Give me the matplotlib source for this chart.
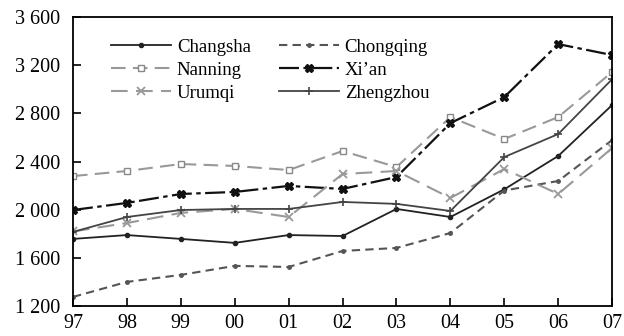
import matplotlib
matplotlib.use("Agg")
import matplotlib.pyplot as plt

years = ["97", "98", "99", "00", "01", "02", "03", "04", "05", "06", "07"]
changsha = [1758, 1790, 1758, 1725, 1790, 1782, 2007, 1940, 2170, 2447, 2870]
chongqing = [1276, 1401, 1459, 1534, 1525, 1658, 1683, 1807, 2160, 2239, 2579]
nanning = [2280, 2322, 2380, 2364, 2330, 2488, 2355, 2770, 2588, 2770, 3144]
xian = [1998, 2057, 2131, 2148, 2198, 2173, 2272, 2720, 2936, 3376, 3285]
urumqi = [1820, 1890, 1974, 2007, 1940, 2297, 2322, 2098, 2339, 2131, 2513]
zhengzhou = [1816, 1940, 1998, 2007, 2007, 2065, 2049, 1990, 2438, 2629, 3085]
yticks = [1200, 1600, 2000, 2400, 2800, 3200, 3600]

plt.rcParams['font.family'] = ['Liberation Serif', 'DejaVu Serif']

fig = plt.figure(figsize=(6.24, 3.36), dpi=100)
ax = fig.add_axes([0.117, 0.089, 0.864, 0.860])
x = list(range(len(years)))

l1, = ax.plot(x, changsha, color='#222222', lw=1.3, marker='o', ms=3, label='Changsha')
l2, = ax.plot(x, chongqing, color='#555555', lw=1.5, ls=(0, (4, 2.5)), marker='o', ms=2.5, label='Chongqing')
l3, = ax.plot(x, nanning, color='#999999', lw=1.5, ls=(0, (7, 3.5)), marker='s', ms=4.5,
              mfc='white', mec='#888888', label='Nanning')
l4, = ax.plot(x, xian, color='#111111', lw=1.6, ls=(0, (9, 2, 2, 2)), marker='X', ms=6, label="Xi\u2019an")
l5, = ax.plot(x, urumqi, color='#999999', lw=1.5, ls=(0, (8, 4)), marker='x', ms=6, mew=1.3, label='Urumqi')
l6, = ax.plot(x, zhengzhou, color='#444444', lw=1.3, marker='+', ms=6, mew=1.2, label='Zhengzhou')

ax.set_xlim(0, len(years) - 1)
ax.set_ylim(1200, 3600)
ax.set_xticks(x)
ax.set_xticklabels(years)
ax.set_yticks(yticks)
ax.set_yticklabels([f"{v:,}".replace(",", " ") for v in yticks])
ax.tick_params(direction='in', length=6, width=1.2, labelsize=14.5, top=False, right=False)
ax.tick_params(axis='x', pad=6)
ax.tick_params(axis='y', pad=9)
for s in ax.spines.values():
    s.set_linewidth(1.3)

ax.legend(handles=[l1, l3, l5, l2, l4, l6], ncol=2, loc='upper left', frameon=False,
          fontsize=13.5, bbox_to_anchor=(0.05, 0.965), handlelength=3.2, handletextpad=0.3,
          columnspacing=1.5, labelspacing=0.32, borderaxespad=0.2)

fig.savefig('out.png', dpi=100)
